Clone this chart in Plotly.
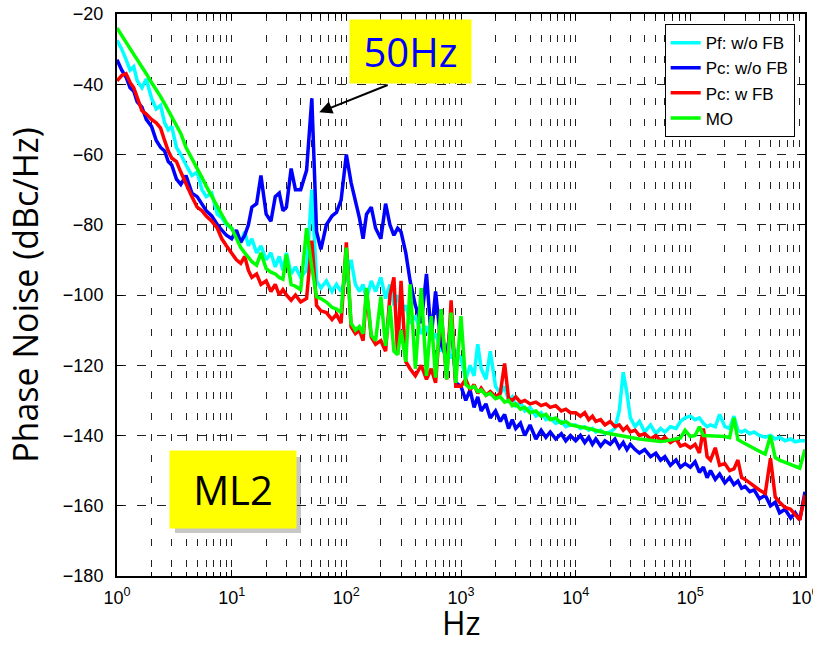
import math
import plotly.graph_objects as go

# Frequency sampling: 25 points per decade from 1 Hz to 1 MHz
MANTISSA = [1.0, 1.1, 1.2, 1.3, 1.4, 1.5, 1.65, 1.8, 2.0, 2.2, 2.4, 2.6, 2.8,
            3.0, 3.3, 3.6, 4.0, 4.5, 5.0, 5.5, 6.0, 6.7, 7.5, 8.2, 9.0]
DECADES = [1, 10, 100, 1e3, 1e4, 1e5]
FREQ_HZ = [round(m * d, 6) for d in DECADES for m in MANTISSA] + [1e6]

# Phase noise spectra (dBc/Hz), one block of values per decade
PF_WO_FB = [
    -27.5, -30, -33, -36, -35, -39, -41, -38.5, -44, -47, -46, -51, -53, -52, -58, -60, -63, -66, -65, -70, -72, -71, -77, -78, -80,
    -81, -83, -85, -82, -86, -84, -88, -86, -90, -88, -92, -89, -93, -88, -94, -92, -95, -93, -70, -96, -98, -96, -99, -97, -99,
    -95, -90, -97, -99, -97, -101, -96, -99, -95, -101, -97, -103, -100, -105, -103, -108, -106, -111, -109, -113, -111, -116, -114, -118, -116,
    -118, -124, -120, -123, -114, -121, -124, -116, -126, -128, -126, -130, -129, -131.5, -130.5, -133, -132, -134.5, -133.5, -135.5, -135, -136.5, -136, -137.5, -137,
    -137, -138, -137.5, -138.5, -138, -139, -138.5, -139.5, -139, -138, -133, -122, -128, -135, -137.5, -136, -139, -137, -139.5, -138, -139, -137.5, -138, -136, -135,
    -134.5, -135.5, -135, -136.5, -137.5, -137, -137.5, -134, -137.5, -138, -134.5, -138.5, -139, -138.5, -139.5, -139, -140, -140.5, -140, -141, -140.5, -141.5, -141, -141.8, -141.5,
    -141.5,
]
PC_WO_FB = [
    -33, -36, -38, -41, -42, -45, -46.5, -50, -52, -56, -58, -59, -62, -63, -67, -68.5, -66, -71, -72, -74, -76, -77.5, -80, -81.5, -83,
    -84, -81.5, -85, -83, -80, -75, -74, -66, -77, -79, -72, -71, -76, -75, -64, -70, -70, -64.5, -44, -82, -87, -80, -77.5, -76.5, -73,
    -60, -68, -73, -78, -84, -77, -75, -81, -84, -74, -80, -83, -81, -82, -88, -96, -103, -108, -94, -112, -99, -114, -118, -107, -125,
    -126, -130, -127, -132, -129, -133, -131, -135, -133, -136, -134, -138, -135.5, -138, -136.5, -140, -137, -141, -138.5, -140.5, -139, -141, -139.5, -141.5, -140,
    -141.5, -140, -142, -140.5, -142.5, -141, -143, -141.5, -142.5, -141, -143.5, -142, -144, -142.5, -144, -145, -144, -146, -145, -147, -146, -148.5, -147, -149, -148,
    -149, -147.5, -150.5, -149, -152, -150, -152.5, -151, -153.5, -152, -154, -153, -155, -154.5, -156, -155.5, -158, -157, -160, -159, -162, -161, -163.5, -162, -164,
    -156,
]
PC_W_FB = [
    -39, -37.5, -37, -39.5, -41, -44, -47.5, -48.5, -50, -51, -52.5, -56, -59, -61, -62, -65, -68.5, -72, -75, -76, -77.5, -79, -81, -84, -86,
    -88, -90, -91, -89, -93, -95, -94, -97, -96, -99, -97, -100, -98.5, -100, -101.5, -100, -102, -101, -84.5, -103, -104.5, -105, -107, -105.5, -108,
    -85, -109, -111, -110, -113, -99, -112, -114, -113, -116, -100, -95, -117, -96, -119, -121, -123, -120, -124, -121, -125, -104, -124, -101.5, -126,
    -126, -124, -127, -125.5, -128, -126.5, -128.5, -127.5, -129, -128, -119.5, -129.5, -130, -129, -130.5, -130, -131, -130.5, -131.5, -131, -132, -131.5, -133, -132.5, -133.5,
    -133.5, -134.5, -133.5, -135.5, -134.5, -136, -135.5, -137, -136, -137.5, -137, -138.5, -137.5, -139, -138.5, -140, -139.5, -141, -140, -141.5, -140.5, -142, -141, -143, -142.5,
    -143.5, -142.5, -145, -138, -146, -147, -143.5, -148.5, -148, -150, -149.5, -147, -152, -152.5, -153.5, -154.5, -155.5, -156.5, -146.5, -157.5, -159, -160.5, -161, -162.5, -164,
    -157,
]
MO = [
    -24, -26, -28, -29.5, -31.5, -33, -35, -37, -39.5, -41.5, -43.5, -45.5, -47.5, -49, -51.5, -54, -58, -61, -64, -66.5, -69, -72, -75, -77.5, -79.5,
    -81, -84, -86.5, -88, -89.5, -90.5, -91.5, -88, -92.5, -93.5, -94, -95, -95.5, -88.5, -97, -97.5, -98.5, -81, -92, -100.5, -101, -102, -103.5, -104, -105,
    -86.5, -108, -110, -109, -111, -98, -111.5, -113, -100.5, -114.5, -103, -116, -117, -110, -119, -97, -121, -98, -123, -106, -123.5, -104, -124, -105, -125,
    -106, -125.5, -126.5, -126, -127.5, -127, -128.5, -128, -129.5, -129, -130.5, -130, -131.5, -131, -132.5, -132, -133.5, -133, -134.5, -134, -135.5, -135, -136.5, -136, -137,
    -137.2, -137.5, -137.8, -138, -138.3, -138.6, -138.9, -139.2, -139.5, -139.7, -140, -140.2, -140.4, -140.6, -140.8, -141, -141.2, -141.4, -141.6, -141.7, -141.6, -141.3, -141, -140.7, -138.5,
    -140.3, -140, -137.5, -140, -140, -140, -140, -140.2, -140.3, -140.6, -135, -141.2, -141.8, -142.4, -143, -143.7, -144.5, -145.3, -140, -146.3, -147, -147.6, -148.3, -148.8, -149.3,
    -144,
]

SERIES = [
    ("Pf: w/o FB", PF_WO_FB, "#00FFFF"),
    ("Pc: w/o FB", PC_WO_FB, "#0000FF"),
    ("Pc: w FB", PC_W_FB, "#FF0000"),
    ("MO", MO, "#00FF00"),
]

X_TICKS = [1, 10, 100, 1e3, 1e4, 1e5, 1e6]
X_TICK_TEXT = ["10<sup>%d</sup>" % k for k in range(7)]
Y_TICKS = [-180, -160, -140, -120, -100, -80, -60, -40, -20]

# Annotation anchor for the 50 Hz callout arrow
ARROW_TIP_HZ = 58
ARROW_TIP_DB = -48

fig = go.Figure()
for name, values, color in SERIES:
    fig.add_trace(go.Scatter(x=FREQ_HZ, y=values, name=name, mode="lines",
                             line=dict(color=color, width=3.5)))

grid_common = dict(gridcolor="#222222", gridwidth=1)

fig.update_layout(
    template="none",
    width=813, height=646,
    margin=dict(l=117, r=8, t=14, b=70),
    paper_bgcolor="white", plot_bgcolor="white",
    font=dict(family="Liberation Sans, Arial, sans-serif", size=18, color="black"),
    legend=dict(x=0.985, y=0.982, xanchor="right", yanchor="top",
                bgcolor="white", bordercolor="black", borderwidth=1,
                font=dict(size=17), tracegroupgap=0),
    xaxis=dict(
        type="log", range=[0, 6],
        tickmode="array", tickvals=X_TICKS, ticktext=X_TICK_TEXT,
        ticks="inside", ticklen=6, tickcolor="black", tickwidth=1,
        ticklabeloverflow="allow",
        showline=True, mirror="ticks", linecolor="black", linewidth=2,
        showgrid=True, griddash="7px,14px", **grid_common,
        minor=dict(dtick="D1", ticks="inside", ticklen=4, tickcolor="black",
                   showgrid=True, griddash="7px,14px", gridcolor="#222222", gridwidth=1),
        zeroline=False, automargin=False, ticklabelstandoff=4,
    ),
    yaxis=dict(
        range=[-180, -20], tickmode="array", tickvals=Y_TICKS,
        ticks="inside", ticklen=6, tickcolor="black",
        showline=True, mirror="ticks", linecolor="black", linewidth=2,
        showgrid=True, griddash="9px,11px", **grid_common,
        zeroline=False, automargin=False, ticklabelstandoff=8,
        title=dict(text="Phase Noise (dBc/Hz)", font=dict(family="Open Sans", size=34), standoff=14),
    ),
)

# x-axis title placed under the tick labels, resting on the bottom edge
fig.add_annotation(xref="paper", yref="paper", x=0.5, y=1 - (646 - 14) / 562,
                   text="Hz", showarrow=False, xanchor="center", yanchor="bottom",
                   font=dict(family="Open Sans", size=32, color="black"))

# Drop shadow behind the ML2 label
fig.add_shape(type="rect", xref="paper", yref="paper",
              x0=(175 - 117) / 688, x1=(301 - 117) / 688,
              y0=1 - (533 - 14) / 562, y1=1 - (457 - 14) / 562,
              line=dict(width=0), fillcolor="rgba(0,0,0,0.22)", layer="above")

# 50 Hz callout: yellow label and arrow
fig.add_annotation(xref="paper", yref="paper", x=0.4266, y=0.9333,
                   text="50Hz", showarrow=False, bgcolor="#FFFF00",
                   width=121, height=63, borderpad=0,
                   font=dict(family="Open Sans", size=40, color="#0000FF"),
                   xanchor="center", yanchor="middle")
fig.add_annotation(xref="x", yref="y", x=math.log10(ARROW_TIP_HZ), y=ARROW_TIP_DB,
                   text="", showarrow=True, ax=70, ay=-28,
                   arrowhead=2, arrowsize=1.3, arrowwidth=2, arrowcolor="black")

# ML2 label
fig.add_annotation(xref="paper", yref="paper", x=0.1686, y=0.1539,
                   text="ML2", showarrow=False, bgcolor="#FFFF00",
                   width=126, height=77, borderpad=0,
                   font=dict(family="Open Sans", size=40, color="black"),
                   xanchor="center", yanchor="middle")

fig.write_html("out.html")
